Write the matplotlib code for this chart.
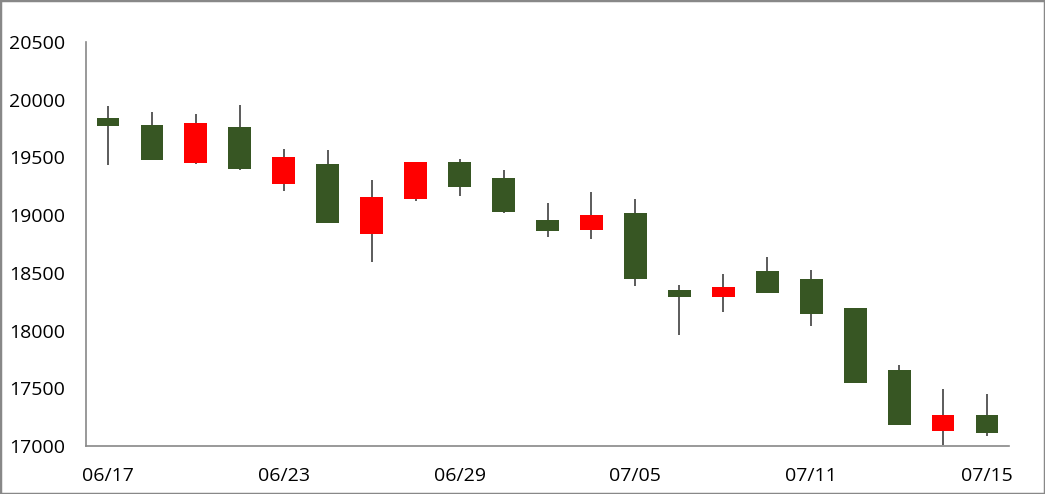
import matplotlib
matplotlib.use('Agg')
import matplotlib.pyplot as plt
from matplotlib.patches import Rectangle
import numpy as np

dates = ['06/17', '06/20', '06/21', '06/22', '06/23', '06/24', '06/27', '06/28',
         '06/29', '06/30', '07/01', '07/04', '07/05', '07/06', '07/07', '07/08',
         '07/11', '07/12', '07/13', '07/14', '07/15']
opens = [19841, 19781, 19454, 19764, 19273, 19443, 18837, 19140, 19460, 19322,
         18958, 18871, 19018, 18351, 18291, 18516, 18447, 18195, 17658, 17130, 17269]
closes = [19775, 19478, 19798, 19400, 19504, 18934, 19157, 19460, 19244, 19027,
          18863, 19001, 18447, 18291, 18377, 18325, 18143, 17546, 17182, 17269, 17113]
highs = [19945, 19893, 19876, 19954, 19573, 19564, 19304, 19460, 19486, 19391,
         19105, 19200, 19140, 18395, 18490, 18637, 18525, 18195, 17702, 17494, 17450]
lows = [19437, 19478, 19446, 19391, 19209, 18934, 18597, 19122, 19166, 19018,
        18811, 18793, 18386, 17962, 18161, 18325, 18040, 17546, 17182, 17009, 17087]

label_every = 4
up_color = '#FF0000'
down_color = '#375623'

plt.rcParams['font.family'] = ['Open Sans', 'DejaVu Sans']

fig = plt.figure(figsize=(10.45, 4.94), dpi=100)
ax = fig.add_axes([86 / 1045, 1 - 446 / 494, 923 / 1045, 404 / 494])

x = np.arange(len(dates))
width = 0.52
for i in x:
    o, c, h, l = opens[i], closes[i], highs[i], lows[i]
    ax.vlines(i, l, h, color='#404040', linewidth=1.2, zorder=1)
    color = up_color if c > o else down_color
    ax.bar(i, abs(c - o), bottom=min(o, c), width=width, color=color, zorder=2)

ax.set_xlim(-0.5, len(dates) - 0.5)
ax.set_ylim(17000, 20500)
ax.set_yticks(np.arange(17000, 20501, 500))
ax.set_xticks(x[::label_every])
ax.set_xticklabels(dates[::label_every])

for side in ['top', 'right']:
    ax.spines[side].set_visible(False)
for side in ['left', 'bottom']:
    ax.spines[side].set_color('#888888')
    ax.spines[side].set_linewidth(1.2)

ax.tick_params(axis='y', length=0, pad=15, labelsize=14)
ax.tick_params(axis='x', length=0, pad=15, labelsize=14)

fig.patches.append(Rectangle((0, 0), 1, 1, transform=fig.transFigure,
                             fill=False, edgecolor='#888888', linewidth=2.5))

fig.savefig('out.png', dpi=100)
